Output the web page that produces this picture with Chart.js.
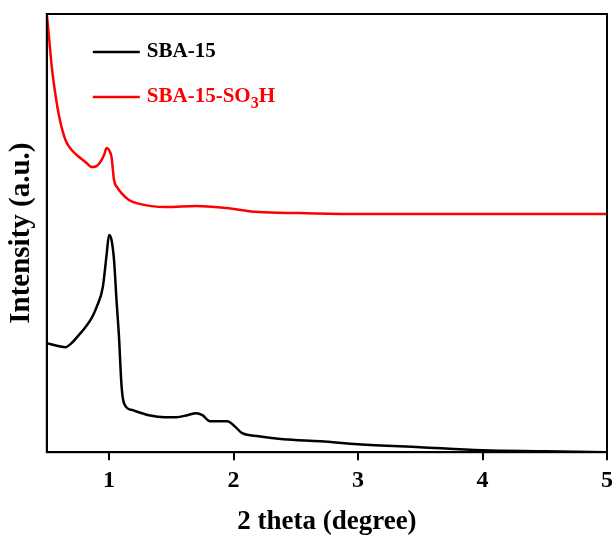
<!DOCTYPE html>
<html>
<head>
<meta charset="utf-8">
<script src="https://cdn.jsdelivr.net/npm/chart.js@4.4.1/dist/chart.umd.min.js"></script>
<style>
  body { margin: 0; background: #fff; }
  #wrap { width: 613px; height: 536px; }
</style>
</head>
<body>
<div id="wrap"><canvas id="myChart" width="613" height="536"></canvas></div>
<script>
// series names ("_3" marks a subscript)
const seriesNames = ['SBA-15', 'SBA-15-SO_3H'];
const seriesColors = ['#000000', '#ff0000'];

// SBA-15 (2 theta, intensity a.u.)
const sbaX = [0.5, 0.6, 0.65, 0.69, 0.75, 0.81, 0.86, 0.9, 0.95, 0.98, 1.0, 1.02, 1.04, 1.06, 1.08, 1.1, 1.12, 1.19, 1.32, 1.45, 1.54, 1.63, 1.7, 1.75, 1.81, 1.95, 2.0, 2.07, 2.2, 2.4, 2.7, 3.0, 3.5, 4.0, 4.5, 5.0];
const sbaY = [109, 106, 105, 108, 116, 125, 134, 145, 165, 197, 217, 212, 192, 152, 115, 67, 49, 42, 37, 35, 35, 37, 39, 37, 31, 31, 27, 19, 16, 13, 11, 8, 5, 2, 1, 0];

// SBA-15-SO3H
const so3hX = [0.5, 0.52, 0.54, 0.57, 0.6, 0.65, 0.7, 0.76, 0.82, 0.86, 0.9, 0.93, 0.96, 0.98, 1.0, 1.02, 1.04, 1.07, 1.1, 1.16, 1.22, 1.46, 1.7, 1.94, 2.2, 2.53, 3.0, 4.0, 5.0];
const so3hY = [438, 412, 385, 357, 335, 312, 302, 295, 289, 285, 286, 290, 297, 304, 302, 295, 272, 264, 259, 252, 249, 245, 246, 244, 240, 239, 238, 238, 238];

const xTicks = [1, 2, 3, 4, 5];
const xTitle = '2 theta (degree)';
const yTitle = 'Intensity (a.u.)';

const FONT = "'Liberation Serif', 'Times New Roman', serif";

function toPoints(xs, ys) {
    return xs.map((x, i) => ({ x: x, y: ys[i] }));
}

// box round the plot
const framePlugin = {
    id: 'frame',
    afterDraw(chart) {
        const a = chart.chartArea;
        const ctx = chart.ctx;
        ctx.save();
        ctx.strokeStyle = '#000';
        ctx.lineWidth = 2;
        ctx.strokeRect(a.left, a.top, a.right - a.left, a.bottom - a.top);
        ctx.restore();
    }
};

// legend with subscript support
const legendPlugin = {
    id: 'subLegend',
    afterDraw(chart) {
        const a = chart.chartArea;
        const ctx = chart.ctx;
        ctx.save();
        chart.data.datasets.forEach((ds, i) => {
            const y = a.top + 38 + i * 45;
            const x0 = a.left + 46;
            ctx.strokeStyle = ds.borderColor;
            ctx.lineWidth = 2.5;
            ctx.beginPath();
            ctx.moveTo(x0, y);
            ctx.lineTo(x0 + 47, y);
            ctx.stroke();
            ctx.fillStyle = ds.borderColor;
            ctx.textBaseline = 'middle';
            let tx = x0 + 54;
            const parts = ds.label.split(/(_\d)/);
            parts.forEach(p => {
                if (!p) return;
                if (p[0] === '_') {
                    ctx.font = 'bold 16px ' + FONT;
                    ctx.fillText(p.slice(1), tx, y + 7);
                    tx += ctx.measureText(p.slice(1)).width;
                } else {
                    ctx.font = 'bold 21px ' + FONT;
                    ctx.fillText(p, tx, y);
                    tx += ctx.measureText(p).width;
                }
            });
        });
        ctx.restore();
    }
};

const ctx = document.getElementById('myChart').getContext('2d');
new Chart(ctx, {
    type: 'line',
    data: {
        datasets: [
            {
                label: seriesNames[0],
                data: toPoints(sbaX, sbaY),
                borderColor: seriesColors[0],
                borderWidth: 2.5,
                pointRadius: 0,
                cubicInterpolationMode: 'monotone',
                fill: false
            },
            {
                label: seriesNames[1],
                data: toPoints(so3hX, so3hY),
                borderColor: seriesColors[1],
                borderWidth: 2.5,
                pointRadius: 0,
                cubicInterpolationMode: 'monotone',
                fill: false
            }
        ]
    },
    options: {
        responsive: false,
        animation: false,
        layout: { padding: { top: 14, right: 0, left: 2, bottom: 0 } },
        plugins: {
            legend: { display: false },
            tooltip: { enabled: false }
        },
        scales: {
            x: {
                type: 'linear',
                min: 0.5,
                max: 5,
                afterBuildTicks: scale => { scale.ticks = xTicks.map(v => ({ value: v })); },
                ticks: {
                    color: '#000',
                    padding: 0,
                    font: { family: FONT, size: 24, weight: 'bold', lineHeight: 1.7 },
                    callback: v => v
                },
                grid: { drawOnChartArea: false, tickLength: 8, color: '#000', lineWidth: 2 },
                border: { color: '#000', width: 2 },
                title: {
                    display: true,
                    text: xTitle,
                    color: '#000',
                    font: { family: FONT, size: 27, weight: 'bold', lineHeight: 1 },
                    padding: { top: 8, bottom: 0 }
                }
            },
            y: {
                min: 0,
                max: 438,
                ticks: { display: false },
                grid: { display: false },
                border: { color: '#000', width: 2 },
                title: {
                    display: true,
                    text: yTitle,
                    color: '#000',
                    font: { family: FONT, size: 29, weight: 'bold' },
                    padding: { top: 2, bottom: 0 }
                }
            }
        }
    },
    plugins: [framePlugin, legendPlugin]
});
</script>
</body>
</html>
